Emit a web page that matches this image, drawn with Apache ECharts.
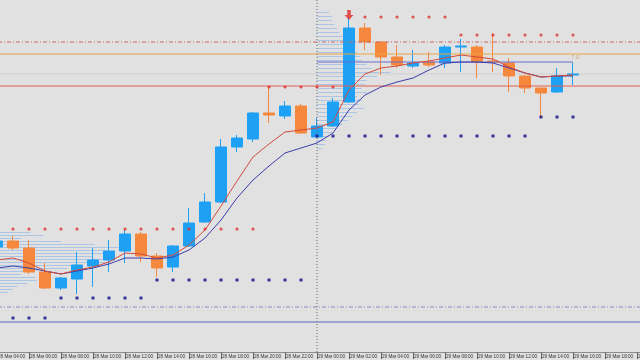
<!DOCTYPE html>
<html><head><meta charset="utf-8">
<script src="https://cdn.jsdelivr.net/npm/echarts@6/dist/echarts.min.js"></script>
<style>html,body{margin:0;padding:0;background:#e1e1e1}#c{width:640px;height:360px}</style>
</head><body><div id="c"></div>
<script>
// hourly time categories (labels shown every 2 hours)
const categories = [
 '28 Mar 04:00','28 Mar 05:00','28 Mar 06:00','28 Mar 07:00','28 Mar 08:00','28 Mar 09:00','28 Mar 10:00','28 Mar 11:00',
 '28 Mar 12:00','28 Mar 13:00','28 Mar 14:00','28 Mar 15:00','28 Mar 16:00','28 Mar 17:00','28 Mar 18:00','28 Mar 19:00',
 '28 Mar 20:00','28 Mar 21:00','28 Mar 22:00','28 Mar 23:00','29 Mar 00:00','29 Mar 01:00','29 Mar 02:00','29 Mar 03:00',
 '29 Mar 04:00','29 Mar 05:00','29 Mar 06:00','29 Mar 07:00','29 Mar 08:00','29 Mar 09:00','29 Mar 10:00','29 Mar 11:00',
 '29 Mar 12:00','29 Mar 13:00','29 Mar 14:00','29 Mar 15:00','29 Mar 16:00','29 Mar 17:00','29 Mar 18:00','29 Mar 19:00',
 '29 Mar 20:00'
];
// [open, close, low, high]
const candles = [
 [1.2603,1.2609,1.2601,1.2611],[1.2609,1.2602,1.2600,1.2614],[1.2602,1.2578,1.2576,1.2610],[1.2578,1.2562,1.2561,1.2587],
 [1.2562,1.2572,1.2560,1.2573],[1.2571,1.2585,1.2556,1.2598],[1.2584,1.2590,1.2563,1.2602],[1.2590,1.2599,1.2578,1.2610],
 [1.2599,1.2616,1.2587,1.2620],[1.2616,1.2594,1.2588,1.2618],[1.2594,1.2582,1.2573,1.2597],[1.2583,1.2604,1.2578,1.2605],
 [1.2604,1.2627,1.2603,1.2642],[1.2628,1.2648,1.2627,1.2657],[1.2648,1.2703,1.2647,1.2711],[1.2703,1.2712,1.2698,1.2715],
 [1.2711,1.2737,1.2708,1.2738],[1.2737,1.2735,1.2727,1.2763],[1.2734,1.2744,1.2731,1.2749],[1.2744,1.2717,1.2716,1.2746],
 [1.2713,1.2724,1.2712,1.2732],[1.2724,1.2748,1.2723,1.2752],[1.2748,1.2822,1.2747,1.2832],[1.2822,1.2808,1.2800,1.2827],
 [1.2808,1.2793,1.2775,1.2809],[1.2793,1.2785,1.2782,1.2805],[1.2784,1.2787,1.2782,1.2800],[1.2788,1.2785,1.2783,1.2798],
 [1.2787,1.2803,1.2782,1.2805],[1.2803,1.2804,1.2778,1.2811],[1.2803,1.2788,1.2772,1.2805],[1.2789,1.2788,1.2778,1.2817],
 [1.2787,1.2774,1.2758,1.2792],[1.2774,1.2762,1.2757,1.2775],[1.2762,1.2757,1.2732,1.2762],[1.2758,1.2774,1.2757,1.2782],
 [1.2775,1.2776,1.2765,1.2787]
];
const maFast = [1.2590,1.2592,1.2587,1.2579,1.2576,1.2580,1.2583,1.2588,1.2597,1.2596,1.2592,1.2595,1.2605,1.2620,1.2644,1.2669,
 1.2693,1.2706,1.2718,1.2720,1.2722,1.2728,1.2760,1.2776,1.2782,1.2784,1.2787,1.2789,1.2792,1.2795,1.2793,1.2791,1.2783,1.2777,1.2773,1.2774,1.2775];
const maSlow = [1.2582,1.2584,1.2582,1.2579,1.2576,1.2579,1.2582,1.2586,1.2592,1.2592,1.2591,1.2593,1.2600,1.2612,1.2630,1.2652,
 1.2670,1.2684,1.2697,1.2702,1.2707,1.2717,1.2740,1.2755,1.2763,1.2768,1.2772,1.2780,1.2787,1.2788,1.2788,1.2787,1.2782,1.2777,1.2773,1.2774,1.2774];
const resistDots = [null,1.2621,1.2621,1.2621,1.2621,1.2621,1.2621,1.2621,1.2621,1.2621,1.2621,1.2621,1.2621,1.2621,1.2621,1.2621,1.2621,
 1.2763,1.2763,1.2763,1.2763,1.2763,null,1.2833,1.2833,1.2833,1.2833,1.2833,1.2833,1.2815,1.2815,1.2815,1.2815,1.2815,1.2815,1.2815,1.2815];
const supportDots = [null,1.2532,1.2532,1.2532,1.2552,1.2552,1.2552,1.2552,1.2552,1.2552,1.2570,1.2570,1.2570,1.2570,1.2570,1.2570,1.2570,
 1.2570,1.2570,1.2570,1.2714,1.2714,1.2714,1.2714,1.2714,1.2714,1.2714,1.2714,1.2714,1.2714,1.2714,1.2714,1.2714,1.2714,1.2733,1.2733,1.2733];
const fractalArrow = [['29 Mar 02:00', 1.2835]];
// horizontal levels
const levelResistDash = 1.2808;
const levelOrange = 1.2796;
const levelPivot = 1.2788;
const pivotLabel = '7.0';
const levelFaint = 1.2776;
const levelRed = 1.2764;
const levelSupportDash = 1.2543;
const levelBlue = 1.2528;
const pivotFrom = 20, pivotTo = 36;   // hour index range of the pivot segment
const sessionIndex = 20;               // 29 Mar 00:00 separator
const priceMin = 1.2498, priceMax = 1.2850;
const hourMin = -0.5, hourMax = 40.5;
// volume profiles (price level, length in hours)
const leftProfileStart = 0.19;
const leftProfilePrices = [1.2618,1.2615,1.2612,1.2609,1.2606,1.2603,1.2600,1.2597,1.2594,1.2591,1.2588,1.2585,1.2582,1.2579,1.2576,1.2573,1.2570,1.2567,1.2564,1.2561,1.2558];
const leftProfileLens = [1.9,2.7,1.3,3.8,5.9,7.5,6.6,6.9,5.8,7.1,6.9,5.0,4.2,1.9,1.3,2.2,2.3,1.7,1.1,0.8,0.5];
const topProfileStart = 20;
const topProfilePrices = [1.2838,1.2834,1.2830,1.2826,1.2822,1.2818,1.2814,1.2810,1.2806,1.2802,1.2798,1.2794,1.2790,1.2786,1.2782,1.2778,1.2774,1.2770,
 1.2766,1.2762,1.2758,1.2754,1.2750,1.2746,1.2742,1.2738,1.2734,1.2730,1.2726,1.2722,1.2718,1.2714,1.2710,1.2706,1.2702];
const topProfileLens = [0.75,0.94,0.94,1.1,1.25,1.4,1.6,1.9,1.6,2.2,2.5,2.7,2.8,3.1,3.4,4.6,3.75,3.1,3.0,2.8,3.1,2.5,2.8,2.6,2.9,2.5,2.2,1.9,1.6,1.25,0.94,0.75,0.6,0.5,0.3];

const profileLines = [];
leftProfilePrices.forEach((p,k)=>profileLines.push({coords:[[leftProfileStart-1,p],[leftProfileStart+leftProfileLens[k],p]]}));
topProfilePrices.forEach((p,k)=>profileLines.push({coords:[[topProfileStart,p],[topProfileStart+topProfileLens[k],p]]}));

function hLine(level, color, type, from, to, z){
  return {type:'line',xAxisIndex:1,silent:true,showSymbol:false,z:z||4,
    data:[[from==null?hourMin:from,level],[to==null?hourMax:to,level]],
    lineStyle:{color:color,width:1,type:type}};
}

const chart = echarts.init(document.getElementById('c'));
chart.setOption({
  backgroundColor:'#e1e1e1',
  animation:false,
  grid:{left:-11,right:-5,top:0,bottom:8,outerBoundsMode:'none',containLabel:false},
  xAxis:[{
    type:'category', data:categories, boundaryGap:true,
    axisLine:{show:true,lineStyle:{color:'#8c8c8c',width:1}},
    axisTick:{show:true,interval:1,alignWithLabel:true,length:7,lineStyle:{color:'#666'}},
    axisLabel:{interval:1,fontSize:4.6,color:'#333',align:'left',margin:2,padding:[0,0,0,1],fontFamily:'Liberation Sans',hideOverlap:false},
    splitLine:{show:false}
  },{
    type:'value', min:hourMin, max:hourMax, show:false
  }],
  yAxis:{type:'value',min:priceMin,max:priceMax,show:false,splitLine:{show:false}},
  series:[
    {type:'lines',coordinateSystem:'cartesian2d',xAxisIndex:1,silent:true,z:1,
     lineStyle:{color:'#a5c2e8',width:1,opacity:0.9},data:profileLines},
    hLine(levelFaint,'#cfcfcf','solid',null,null,2),
    hLine(levelResistDash,'#c86868',[4,2,1,2]),
    hLine(levelOrange,'#e8a448','solid'),
    hLine(levelRed,'#e0604e','solid'),
    hLine(levelSupportDash,'#8a8ac4',[4,2,1,2]),
    hLine(levelBlue,'#6464c4','solid'),
    {type:'line',xAxisIndex:1,silent:true,showSymbol:false,z:4,
     data:[[sessionIndex,priceMin],[sessionIndex,priceMax]],lineStyle:{color:'#6a6a6a',width:1,type:[1,2]}},
    {type:'line',xAxisIndex:1,silent:true,showSymbol:false,z:4,
     data:[[pivotFrom,levelPivot],[pivotTo,levelPivot]],lineStyle:{color:'#6a6ac8',width:1},
     endLabel:{show:true,formatter:pivotLabel,color:'#d4ab78',fontSize:6,offset:[-10,-5]}},
    {type:'candlestick',data:candles,barWidth:12,z:3,
     itemStyle:{color:'#1ea0f5',color0:'#f5883c',borderColor:'#1ea0f5',borderColor0:'#f5883c',borderWidth:1}},
    {type:'line',data:maSlow,showSymbol:false,z:5,lineStyle:{color:'#3c3caa',width:1}},
    {type:'line',data:maFast,showSymbol:false,z:5,lineStyle:{color:'#d24a3a',width:1}},
    {type:'scatter',data:resistDots,symbolSize:3.2,z:6,itemStyle:{color:'#e03030'}},
    {type:'scatter',data:supportDots,symbolSize:3.6,z:6,itemStyle:{color:'#16168a'}},
    {type:'scatter',data:fractalArrow,z:6,symbol:'path://M3,0 L7,0 L7,5 L10,5 L5,10 L0,5 L3,5 Z',symbolSize:[9,10],itemStyle:{color:'#e02a2a'}}
  ]
});
</script></body></html>
